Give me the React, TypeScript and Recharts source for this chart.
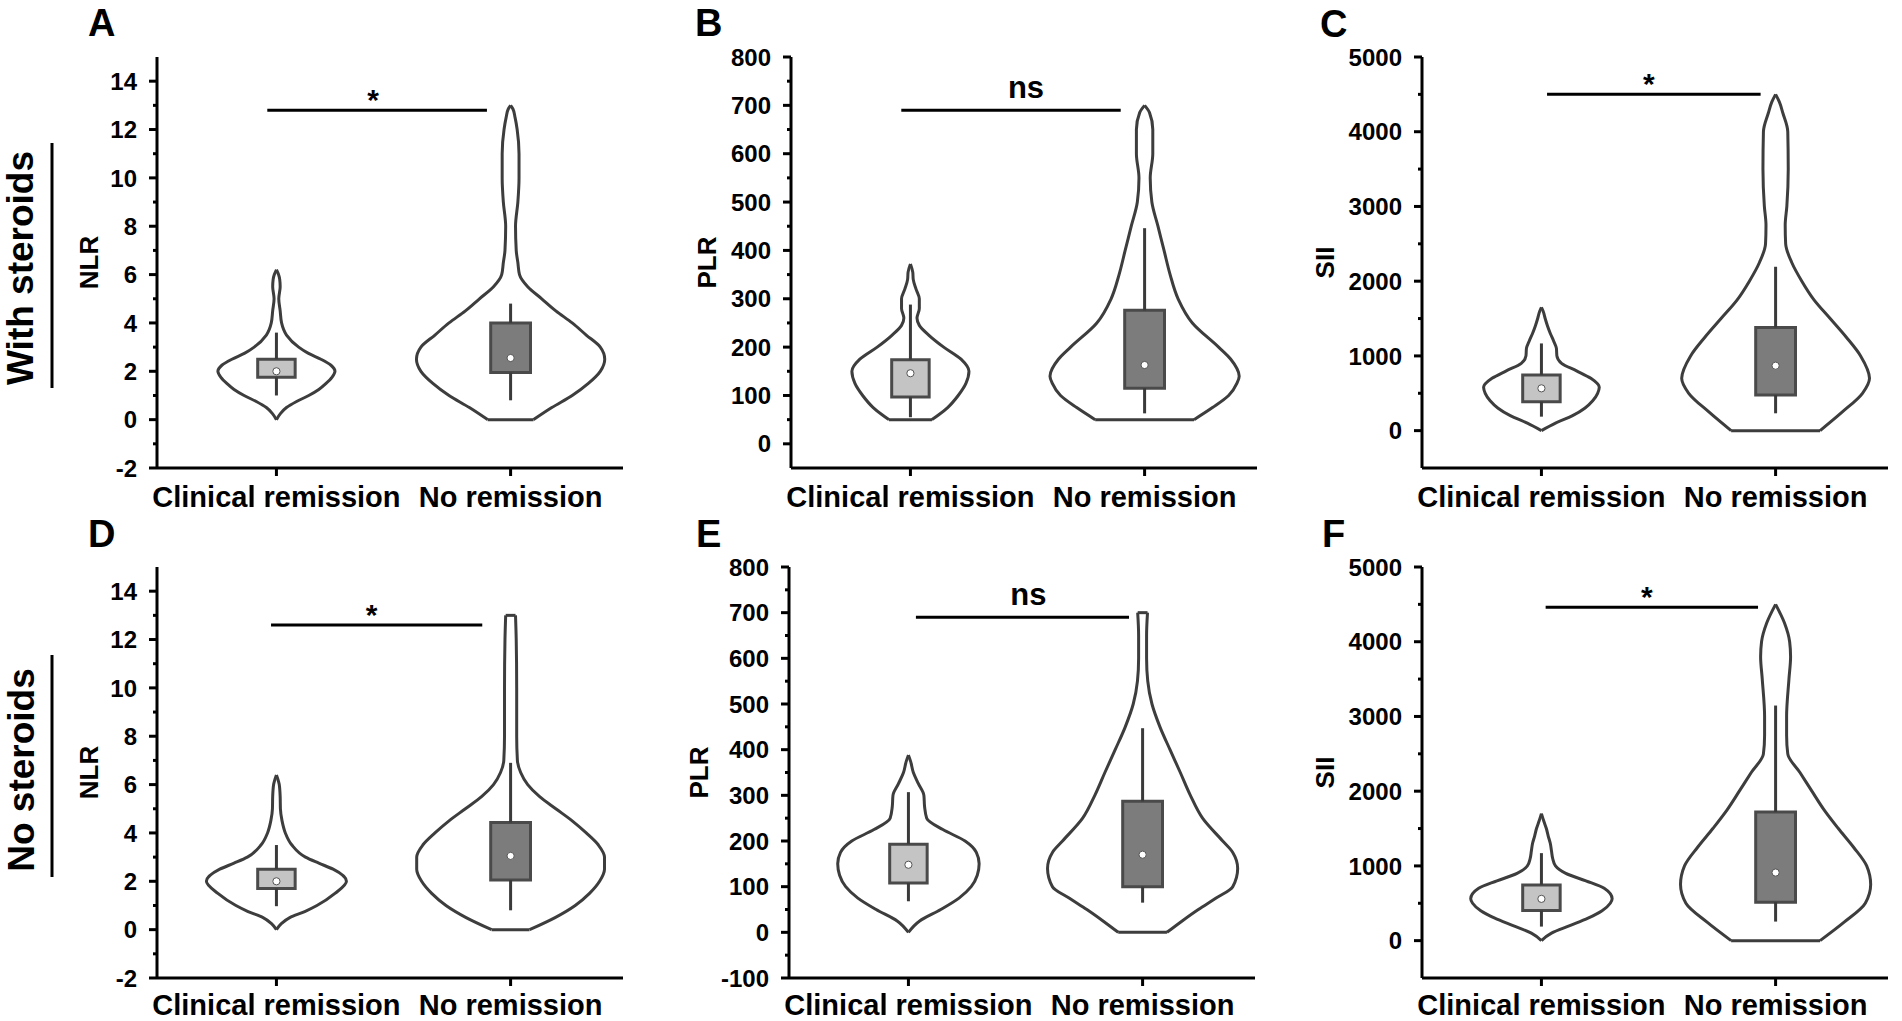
import React from "react";
import { ComposedChart, XAxis, YAxis, Scatter, ReferenceArea, ReferenceLine } from "recharts";

const groups = ["Clinical remission", "No remission"];
const groupPos = [1, 2];
const rowLabels = ["With steroids", "No steroids"];

// y ticks
const nlrMajor = [-2, 0, 2, 4, 6, 8, 10, 12, 14];
const nlrMinor = [-1, 1, 3, 5, 7, 9, 11, 13];
const plrMajor = [0, 100, 200, 300, 400, 500, 600, 700, 800];
const plrMinor = [50, 150, 250, 350, 450, 550, 650, 750];
const plrMajorE = [-100, 0, 100, 200, 300, 400, 500, 600, 700, 800];
const plrMinorE = [-50, 50, 150, 250, 350, 450, 550, 650, 750];
const siiMajor = [0, 1000, 2000, 3000, 4000, 5000];
const siiMinor = [500, 1500, 2500, 3500, 4500];

// violin outlines: value levels and half widths (x-axis units)
// A - NLR, with steroids
const aCrLevels = [0, 0.25, 0.5, 0.75, 1, 1.25, 1.5, 1.75, 2, 2.25, 2.5, 2.75, 3, 3.5, 4, 4.5, 5, 5.5, 5.8, 6, 6.2];
const aCrWidths = [0, 0.017, 0.043, 0.086, 0.138, 0.181, 0.212, 0.237, 0.25, 0.233, 0.19, 0.135, 0.095, 0.043, 0.022, 0.016, 0.01, 0.016, 0.014, 0.009, 0];
const aNrLevels = [0, 0.5, 1, 1.5, 2, 2.5, 3, 3.5, 4, 4.5, 5, 5.5, 6, 6.5, 7, 8, 9, 10, 11, 12, 12.5, 12.85, 13];
const aNrWidths = [0.098, 0.176, 0.263, 0.332, 0.383, 0.402, 0.383, 0.323, 0.263, 0.193, 0.133, 0.073, 0.038, 0.031, 0.024, 0.021, 0.031, 0.036, 0.036, 0.028, 0.019, 0.01, 0];
// B - PLR, with steroids
const bCrLevels = [50, 60, 75, 100, 125, 150, 175, 200, 225, 245, 260, 280, 300, 320, 340, 355, 372];
const bCrWidths = [0.092, 0.121, 0.159, 0.204, 0.237, 0.25, 0.216, 0.142, 0.078, 0.038, 0.028, 0.038, 0.038, 0.024, 0.012, 0.01, 0];
const bNrLevels = [50, 75, 100, 125, 140, 175, 200, 250, 300, 350, 400, 450, 500, 550, 600, 650, 685, 700];
const bNrWidths = [0.211, 0.29, 0.359, 0.394, 0.404, 0.368, 0.316, 0.204, 0.143, 0.109, 0.083, 0.057, 0.031, 0.024, 0.035, 0.035, 0.021, 0];
// C - SII, with steroids
const cCrLevels = [0, 100, 200, 300, 400, 500, 580, 700, 800, 900, 1000, 1100, 1200, 1300, 1400, 1500, 1600, 1650];
const cCrWidths = [0, 0.06, 0.133, 0.185, 0.219, 0.24, 0.247, 0.211, 0.15, 0.086, 0.066, 0.064, 0.052, 0.038, 0.026, 0.016, 0.007, 0];
const cNrLevels = [0, 250, 500, 700, 1000, 1250, 1500, 1750, 2000, 2250, 2500, 2750, 3000, 3500, 4000, 4250, 4400, 4500];
const cNrWidths = [0.19, 0.285, 0.371, 0.401, 0.363, 0.302, 0.233, 0.164, 0.112, 0.069, 0.043, 0.041, 0.048, 0.054, 0.052, 0.031, 0.016, 0];
// D - NLR, no steroids
const dCrLevels = [0, 0.25, 0.5, 0.75, 1, 1.5, 2, 2.5, 2.75, 3, 3.5, 4, 4.5, 5, 5.5, 6, 6.4];
const dCrWidths = [0, 0.021, 0.057, 0.121, 0.173, 0.25, 0.299, 0.242, 0.181, 0.124, 0.066, 0.038, 0.024, 0.017, 0.016, 0.012, 0];
const dNrLevels = [0, 0.5, 1, 1.5, 2, 2.5, 3, 3.5, 4, 4.5, 5, 5.5, 6, 6.5, 7, 8, 10, 12, 13];
const dNrWidths = [0.081, 0.19, 0.276, 0.337, 0.38, 0.401, 0.401, 0.375, 0.323, 0.263, 0.193, 0.124, 0.073, 0.043, 0.029, 0.026, 0.026, 0.024, 0.021];
// E - PLR, no steroids
const eCrLevels = [0, 25, 50, 75, 100, 125, 150, 175, 200, 225, 250, 275, 300, 325, 350, 375, 388];
const eCrWidths = [0, 0.048, 0.138, 0.216, 0.268, 0.294, 0.302, 0.29, 0.242, 0.147, 0.078, 0.069, 0.066, 0.043, 0.021, 0.009, 0];
const eNrLevels = [0, 25, 50, 75, 100, 140, 175, 200, 250, 300, 350, 400, 450, 500, 550, 600, 650, 700];
const eNrWidths = [0.104, 0.169, 0.238, 0.314, 0.385, 0.406, 0.385, 0.342, 0.256, 0.204, 0.161, 0.117, 0.074, 0.04, 0.022, 0.017, 0.017, 0.021];
// F - SII, no steroids
const fCrLevels = [0, 100, 200, 300, 400, 500, 560, 700, 800, 900, 1000, 1100, 1200, 1300, 1400, 1500, 1600, 1700];
const fCrWidths = [0, 0.043, 0.121, 0.199, 0.259, 0.294, 0.302, 0.268, 0.19, 0.104, 0.06, 0.048, 0.043, 0.038, 0.029, 0.021, 0.01, 0];
const fNrLevels = [0, 250, 500, 750, 1000, 1250, 1500, 1750, 2000, 2250, 2500, 2750, 3000, 3500, 3800, 4000, 4250, 4500];
const fNrWidths = [0.19, 0.294, 0.383, 0.406, 0.389, 0.333, 0.268, 0.207, 0.155, 0.104, 0.052, 0.047, 0.047, 0.057, 0.064, 0.06, 0.038, 0];

// box stats [clinical remission, no remission]
const aQ1 = [1.75, 1.95], aQ3 = [2.5, 4.0], aLo = [1.0, 0.8], aHi = [3.6, 4.8], aMid = [2.0, 2.55];
const bQ1 = [97, 115], bQ3 = [174, 276], bLo = [55, 63], bHi = [288, 446], bMid = [146, 163];
const cQ1 = [388, 477], cQ3 = [744, 1381], cLo = [187, 232], cHi = [1167, 2193], cMid = [566, 869];
const dQ1 = [1.7, 2.05], dQ3 = [2.5, 4.43], dLo = [0.97, 0.8], dHi = [3.5, 6.9], dMid = [2.0, 3.05];
const eQ1 = [108, 100], eQ3 = [193, 287], eLo = [68, 65], eHi = [307, 447], eMid = [148, 170];
const fQ1 = [402, 514], fQ3 = [746, 1720], fLo = [188, 255], fHi = [1171, 3146], fMid = [559, 911];

// significance bars [x1, x2, y]
const aSig = [0.961, 1.899, 12.8];
const bSig = [0.961, 1.898, 690];
const cSig = [1.024, 1.936, 4500];
const dSig = [0.977, 1.879, 12.6];
const eSig = [1.032, 1.942, 690];
const fSig = [1.018, 1.925, 4460];

const FONT = "'Liberation Sans', Arial, sans-serif";
const boxFill = ["#c4c4c4", "#7c7c7c"];
const boxHalf = [0.08, 0.085];
const LEFT = 200;
const PLOT_W = 466;
const PLOT_H = 411;

const panels = [
  { id: "A", yLabel: "NLR", axisX: 157, top: 57, labelX: 89, gap: 20, domain: [-2, 15], major: nlrMajor, minor: nlrMinor,
    violins: [[aCrLevels, aCrWidths], [aNrLevels, aNrWidths]], q1: aQ1, q3: aQ3, lo: aLo, hi: aHi, mid: aMid,
    sig: aSig, sigText: "*", sigDx: -4, letterX: 88, letterY: 36, xMargin: 10 },
  { id: "B", yLabel: "PLR", axisX: 791, top: 57, labelX: 707, gap: 20, domain: [-50, 800], major: plrMajor, minor: plrMinor,
    violins: [[bCrLevels, bCrWidths], [bNrLevels, bNrWidths]], q1: bQ1, q3: bQ3, lo: bLo, hi: bHi, mid: bMid,
    sig: bSig, sigText: "ns", sigDx: 15, letterX: 695, letterY: 36, xMargin: 10 },
  { id: "C", yLabel: "SII", axisX: 1422, top: 57, labelX: 1325, gap: 20, domain: [-500, 5000], major: siiMajor, minor: siiMinor,
    violins: [[cCrLevels, cCrWidths], [cNrLevels, cNrWidths]], q1: cQ1, q3: cQ3, lo: cLo, hi: cHi, mid: cMid,
    sig: cSig, sigText: "*", sigDx: -5, letterX: 1320, letterY: 37, xMargin: 10 },
  { id: "D", yLabel: "NLR", axisX: 157, top: 567, labelX: 89, gap: 20, domain: [-2, 15], major: nlrMajor, minor: nlrMinor,
    violins: [[dCrLevels, dCrWidths], [dNrLevels, dNrWidths]], q1: dQ1, q3: dQ3, lo: dLo, hi: dHi, mid: dMid,
    sig: dSig, sigText: "*", sigDx: -5, letterX: 88, letterY: 547, xMargin: 8 },
  { id: "E", yLabel: "PLR", axisX: 789, top: 567, labelX: 699, gap: 20, domain: [-100, 800], major: plrMajorE, minor: plrMinorE,
    violins: [[eCrLevels, eCrWidths], [eNrLevels, eNrWidths]], q1: eQ1, q3: eQ3, lo: eLo, hi: eHi, mid: eMid,
    sig: eSig, sigText: "ns", sigDx: 6, letterX: 696, letterY: 547, xMargin: 8 },
  { id: "F", yLabel: "SII", axisX: 1422, top: 567, labelX: 1325, gap: 20, domain: [-500, 5000], major: siiMajor, minor: siiMinor,
    violins: [[fCrLevels, fCrWidths], [fNrLevels, fNrWidths]], q1: fQ1, q3: fQ3, lo: fLo, hi: fHi, mid: fMid,
    sig: fSig, sigText: "*", sigDx: -5, letterX: 1322, letterY: 547, xMargin: 8 },
];

// splits a violin profile into left/right sides (top to bottom) plus flat end caps
function outline(center: number, levels: number[], widths: number[]) {
  const idx = levels.map((_, i) => i).reverse();
  const left = idx.map((i) => ({ x: center - widths[i], y: levels[i] }));
  const right = idx.map((i) => ({ x: center + widths[i], y: levels[i] }));
  const caps: { x: number; y: number }[][] = [];
  const n = levels.length - 1;
  if (widths[0] > 0) caps.push([{ x: center - widths[0], y: levels[0] }, { x: center + widths[0], y: levels[0] }]);
  if (widths[n] > 0) caps.push([{ x: center - widths[n], y: levels[n] }, { x: center + widths[n], y: levels[n] }]);
  return { left, right, caps };
}

const NoDot = () => <g />;
const MidDot = (props: any) => (
  <circle cx={props.cx} cy={props.cy} r={3.6} fill="#fff" stroke="#555" strokeWidth={1} />
);

function Panel({ p }: { p: any }) {
  const L = p.axisX - LEFT;
  const m = 2 * (p.labelX - L) - LEFT;
  const ticks = [...p.major, ...p.minor].sort((a: number, b: number) => a - b);

  const yTick = (props: any) => {
    const { x, y, payload } = props;
    const isMajor = p.major.includes(payload.value);
    return (
      <g>
        <line x1={x - (isMajor ? 8 : 4)} x2={x} y1={y} y2={y} stroke="#000" strokeWidth={3} />
        {isMajor && (
          <text x={x - p.gap} y={y} dy="0.36em" textAnchor="end" fill="#000" fontSize={24} fontWeight={700} fontFamily={FONT}>
            {payload.value}
          </text>
        )}
      </g>
    );
  };

  return (
    <div style={{ position: "absolute", left: L, top: p.top - 25 }}>
      <ComposedChart width={LEFT + PLOT_W + 20} height={25 + PLOT_H + 56} margin={{ top: 25, right: 20, bottom: 0, left: m }}>
        <XAxis
          type="number"
          dataKey="x"
          domain={[0.49, 2.48]}
          ticks={groupPos}
          interval={0}
          allowDataOverflow
          tickFormatter={(v: number) => groups[v - 1]}
          height={56}
          tickSize={8}
          tickMargin={p.xMargin}
          axisLine={{ stroke: "#000", strokeWidth: 3 }}
          tickLine={{ stroke: "#000", strokeWidth: 3 }}
          tick={{ fill: "#000", fontSize: 29, fontWeight: 700, fontFamily: FONT }}
        />
        <YAxis
          type="number"
          dataKey="y"
          domain={p.domain}
          ticks={ticks}
          interval={0}
          allowDataOverflow
          width={LEFT - m}
          tickSize={0}
          tickMargin={0}
          tickLine={false}
          axisLine={{ stroke: "#000", strokeWidth: 3 }}
          tick={yTick}
          label={{ value: p.yLabel, angle: -90, position: "center", fill: "#000", fontSize: 26, fontWeight: 700, fontFamily: FONT }}
        />

        {p.violins.map(([lv, wd]: number[][], g: number) => {
          const o = outline(groupPos[g], lv, wd);
          return [o.left, o.right, ...o.caps].map((pts, k) => (
            <Scatter
              key={`v${g}-${k}`}
              data={pts}
              fill="none"
              line={{ stroke: "#3d3d3d", strokeWidth: 3 }}
              lineJointType={k < 2 ? "monotoneY" : "linear"}
              shape={NoDot}
              isAnimationActive={false}
            />
          ));
        })}

        {groupPos.map((c, g) => (
          <React.Fragment key={`b${g}`}>
            <ReferenceLine segment={[{ x: c, y: p.hi[g] }, { x: c, y: p.q3[g] }]} stroke="#3a3a3a" strokeWidth={3} />
            <ReferenceLine segment={[{ x: c, y: p.q1[g] }, { x: c, y: p.lo[g] }]} stroke="#3a3a3a" strokeWidth={3} />
            <ReferenceArea
              x1={c - boxHalf[g]}
              x2={c + boxHalf[g]}
              y1={p.q1[g]}
              y2={p.q3[g]}
              fill={boxFill[g]}
              fillOpacity={1}
              stroke="#4a4a4a"
              strokeWidth={3}
            />
          </React.Fragment>
        ))}

        <Scatter
          data={groupPos.map((c, g) => ({ x: c, y: p.mid[g] }))}
          shape={MidDot}
          isAnimationActive={false}
        />

        <ReferenceLine
          segment={[{ x: p.sig[0], y: p.sig[2] }, { x: p.sig[1], y: p.sig[2] }]}
          stroke="#000"
          strokeWidth={3}
          label={{
            value: p.sigText,
            position: "top",
            offset: p.sigText === "*" ? 0 : 12,
            dx: p.sigDx,
            fill: "#000",
            fontSize: p.sigText === "*" ? 30 : 31,
            fontWeight: 700,
            fontFamily: FONT,
          }}
        />
      </ComposedChart>
    </div>
  );
}

export default function App() {
  return (
    <div style={{ position: "absolute", left: 0, top: 0, width: 1902, height: 1021, background: "#fff", overflow: "hidden" }}>
      {panels.map((p) => (
        <Panel key={p.id} p={p} />
      ))}
      <svg width={1902} height={1021} style={{ position: "absolute", left: 0, top: 0, pointerEvents: "none" }}>
        {panels.map((p) => (
          <text key={p.id} x={p.letterX} y={p.letterY} fontSize={38} fontWeight={700} fontFamily={FONT} fill="#000">
            {p.id}
          </text>
        ))}
        <text transform="translate(33,268) rotate(-90)" textAnchor="middle" fontSize={37} fontWeight={700} fontFamily={FONT} fill="#000">
          {rowLabels[0]}
        </text>
        <line x1={52} x2={52} y1={143} y2={388} stroke="#000" strokeWidth={3} />
        <text transform="translate(34,770) rotate(-90)" textAnchor="middle" fontSize={37} fontWeight={700} fontFamily={FONT} fill="#000">
          {rowLabels[1]}
        </text>
        <line x1={52} x2={52} y1={655} y2={877} stroke="#000" strokeWidth={3} />
      </svg>
    </div>
  );
}
